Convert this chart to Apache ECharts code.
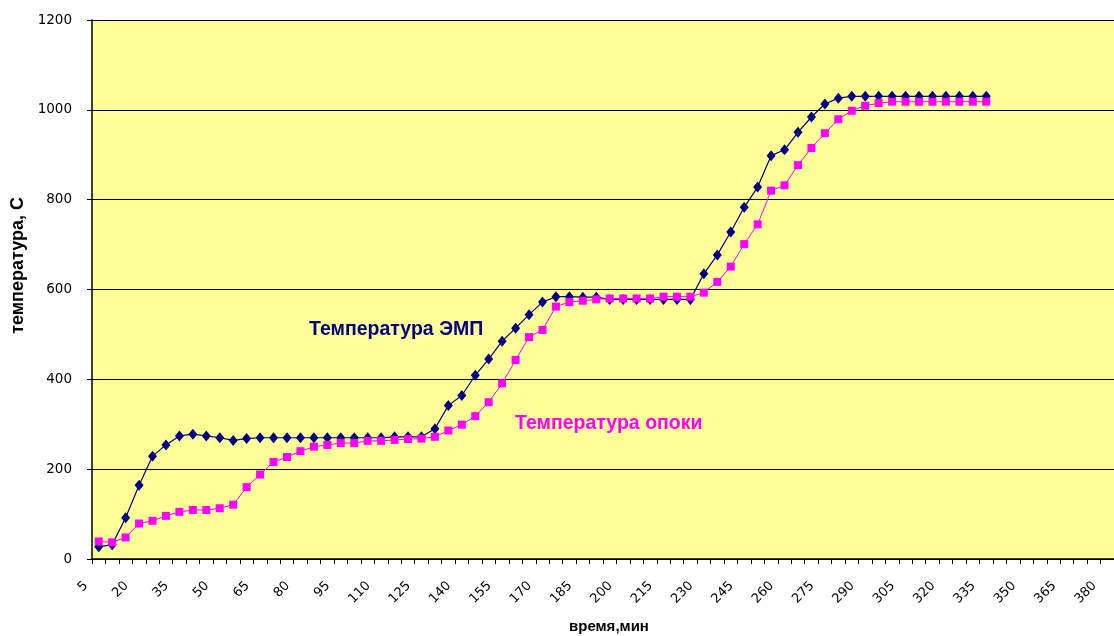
<!DOCTYPE html>
<html>
<head>
<meta charset="utf-8">
<script src="https://cdn.jsdelivr.net/npm/echarts@6/dist/echarts.min.js"></script>
<style>
  html, body { margin: 0; padding: 0; background: #fff; }
  #chart { width: 1114px; height: 636px; }
</style>
</head>
<body>
<div id="chart"></div>
<script>
// время, мин
const minutes = ['5', '10', '15', '20', '25', '30', '35', '40', '45', '50', '55', '60', '65', '70', '75', '80',
  '85', '90', '95', '100', '105', '110', '115', '120', '125', '130', '135', '140', '145', '150', '155', '160',
  '165', '170', '175', '180', '185', '190', '195', '200', '205', '210', '215', '220', '225', '230', '235', '240',
  '245', '250', '255', '260', '265', '270', '275', '280', '285', '290', '295', '300', '305', '310', '315', '320',
  '325', '330', '335', '340', '345', '350', '355', '360', '365', '370', '375', '380'];

// Температура ЭМП
const tempEmp = [27, 32, 92, 164, 229, 254, 274, 278, 274, 270,
  264, 268, 270, 270, 270, 270, 270, 270, 270, 270,
  270, 270, 272, 272, 272, 290, 342, 364, 409, 445,
  485, 514, 544, 572, 584, 584, 583, 583, 578, 578,
  578, 578, 578, 578, 578, 635, 677, 728, 783, 828,
  898, 911, 950, 984, 1013, 1026, 1030, 1030, 1030, 1030,
  1030, 1030, 1030, 1030, 1030, 1030, 1030];

// Температура опоки
const tempOpoka = [39, 37, 48, 79, 85, 96, 105, 109, 109, 113,
  121, 160, 188, 216, 227, 240, 250, 254, 258, 258,
  263, 263, 265, 267, 268, 272, 286, 299, 318, 349,
  391, 443, 494, 510, 562, 572, 575, 578, 580, 580,
  580, 580, 584, 584, 584, 593, 617, 651, 701, 745,
  820, 832, 877, 915, 948, 979, 998, 1009, 1015, 1018,
  1018, 1018, 1018, 1018, 1018, 1018, 1018];

const chart = echarts.init(document.getElementById('chart'));

const option = {
  animation: false,
  backgroundColor: '#ffffff',
  textStyle: { fontFamily: 'Liberation Sans' },
  grid: {
    left: 92,
    right: -10,
    top: 20,
    bottom: 77,
    show: true,
    backgroundColor: '#ffff99',
    borderWidth: 0
  },
  xAxis: {
    type: 'category',
    data: minutes,
    boundaryGap: true,
    axisLine: { lineStyle: { color: '#000', width: 1.5 } },
    axisTick: { show: true, interval: 0, length: 5, lineStyle: { color: '#000' } },
    axisLabel: {
      interval: 2,
      rotate: 45,
      margin: 12,
      padding: [0, 18, 0, 0],
      color: '#000',
      fontFamily: 'DejaVu Sans',
      fontSize: 13
    },
    splitLine: { show: false }
  },
  yAxis: {
    type: 'value',
    min: 0,
    max: 1200,
    interval: 200,
    axisLine: { show: true, lineStyle: { color: '#000', width: 1.5 } },
    axisTick: { show: true, length: 5, lineStyle: { color: '#000' } },
    axisLabel: {
      margin: 20,
      color: '#000',
      fontFamily: 'DejaVu Sans',
      fontSize: 13.5,
      formatter: v => String(v)
    },
    splitLine: { show: true, lineStyle: { color: '#000', width: 1 } }
  },
  series: [
    {
      name: 'Температура ЭМП',
      type: 'line',
      data: tempEmp,
      showAllSymbol: true,
      symbol: 'diamond',
      symbolSize: [9, 11],
      lineStyle: { color: '#000080', width: 1.2 },
      itemStyle: { color: '#000080' },
      z: 3
    },
    {
      name: 'Температура опоки',
      type: 'line',
      data: tempOpoka,
      showAllSymbol: true,
      symbol: 'rect',
      symbolSize: 8,
      lineStyle: { color: '#ff00ff', width: 1 },
      itemStyle: { color: '#ff00ff' },
      z: 4
    }
  ],
  graphic: [
    {
      type: 'text',
      left: 309,
      top: 320,
      style: {
        text: 'Температура ЭМП',
        fill: '#000080',
        font: 'bold 19.5px "Liberation Sans"'
      }
    },
    {
      type: 'text',
      left: 515,
      top: 414,
      style: {
        text: 'Температура опоки',
        fill: '#ff00ff',
        font: 'bold 19.5px "Liberation Sans"'
      }
    },
    {
      type: 'text',
      left: 569,
      top: 619,
      style: {
        text: 'время,мин',
        fill: '#000',
        font: 'bold 15px "Liberation Sans"'
      }
    },
    {
      type: 'text',
      left: 9,
      top: 197,
      rotation: Math.PI / 2,
      style: {
        text: 'температура, С',
        fill: '#000',
        font: 'bold 18px "Liberation Sans"'
      }
    }
  ]
};

chart.setOption(option);
</script>
</body>
</html>
